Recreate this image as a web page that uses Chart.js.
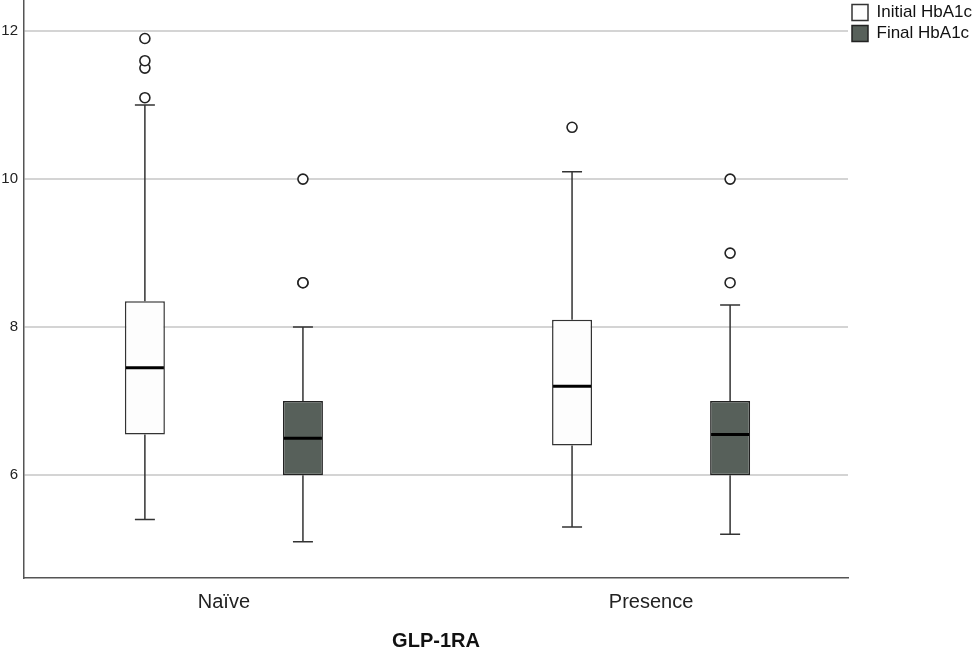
<!DOCTYPE html>
<html>
<head>
<meta charset="utf-8">
<script src="https://cdn.jsdelivr.net/npm/chart.js@4.4.1/dist/chart.umd.min.js"></script>
<style>
  html, body { margin: 0; padding: 0; background: #fff; }
  #wrap { width: 973px; height: 653px; }
</style>
</head>
<body>
<div id="wrap"><canvas id="myChart"></canvas></div>
<script>
// GLP-1RA groups
var categories = ["Naïve", "Presence"];
var yTicks = [6, 8, 10, 12];

// Initial HbA1c box stats
var initialMin = [5.4, 5.3];
var initialQ1 = [6.55, 6.4];
var initialMedian = [7.45, 7.2];
var initialQ3 = [8.35, 8.1];
var initialMax = [11.0, 10.1];
var initialOutliers = [[11.1, 11.5, 11.6, 11.9], [10.7]];

// Final HbA1c box stats
var finalMin = [5.1, 5.2];
var finalQ1 = [6.0, 6.0];
var finalMedian = [6.5, 6.55];
var finalQ3 = [7.0, 7.0];
var finalMax = [8.0, 8.3];
var finalOutliers = [[8.6, 8.6, 10.0], [8.6, 9.0, 10.0]];

var FONT = "'Liberation Sans', Arial, sans-serif";

// floating bar [q1, q3] at the category index
function boxes(q1, q3) {
    return q1.map((v, i) => ({ x: i, y: [v, q3[i]] }));
}

var stats = [
    { min: initialMin, med: initialMedian, max: initialMax, q1: initialQ1, q3: initialQ3, out: initialOutliers },
    { min: finalMin, med: finalMedian, max: finalMax, q1: finalQ1, q3: finalQ3, out: finalOutliers }
];

// whiskers, medians and outliers on top of the floating bars
const boxPlotExtras = {
    id: "boxPlotExtras",
    afterDatasetsDraw(chart) {
        const ctx = chart.ctx;
        const y = chart.scales.y;
        ctx.save();
        stats.forEach((s, d) => {
            const meta = chart.getDatasetMeta(d);
            meta.data.forEach((bar, i) => {
                const x = bar.x;
                const half = bar.width / 2;
                const cap = bar.width / 4;
                ctx.strokeStyle = "#333";
                ctx.lineWidth = 1.5;
                ctx.beginPath();
                ctx.moveTo(x, y.getPixelForValue(s.q3[i]));
                ctx.lineTo(x, y.getPixelForValue(s.max[i]));
                ctx.moveTo(x, y.getPixelForValue(s.q1[i]));
                ctx.lineTo(x, y.getPixelForValue(s.min[i]));
                ctx.moveTo(x - cap, y.getPixelForValue(s.max[i]));
                ctx.lineTo(x + cap, y.getPixelForValue(s.max[i]));
                ctx.moveTo(x - cap, y.getPixelForValue(s.min[i]));
                ctx.lineTo(x + cap, y.getPixelForValue(s.min[i]));
                ctx.stroke();

                ctx.strokeStyle = "#000";
                ctx.lineWidth = 3;
                ctx.beginPath();
                ctx.moveTo(x - half + 1, y.getPixelForValue(s.med[i]));
                ctx.lineTo(x + half - 1, y.getPixelForValue(s.med[i]));
                ctx.stroke();

                ctx.strokeStyle = "#222";
                ctx.lineWidth = 1.6;
                ctx.fillStyle = "#fff";
                s.out[i].forEach(v => {
                    ctx.beginPath();
                    ctx.arc(x, y.getPixelForValue(v), 5, 0, Math.PI * 2);
                    ctx.fill();
                    ctx.stroke();
                });
            });
        });
        ctx.restore();
    }
};

const CHART = document.getElementById("myChart");
let myChart = new Chart(CHART, {
    type: "bar",
    data: {
        datasets: [{
            label: "Initial HbA1c",
            data: boxes(initialQ1, initialQ3),
            backgroundColor: "#fdfdfd",
            borderColor: "#333",
            borderWidth: 1.5,
            borderSkipped: false,
            categoryPercentage: 0.74,
            barPercentage: 0.253
        }, {
            label: "Final HbA1c",
            data: boxes(finalQ1, finalQ3),
            backgroundColor: "#57605a",
            borderColor: "#222",
            borderWidth: 1.5,
            borderSkipped: false,
            categoryPercentage: 0.74,
            barPercentage: 0.253
        }]
    },
    options: {
        responsive: true,
        maintainAspectRatio: false,
        animation: false,
        layout: { padding: 0 },
        plugins: {
            tooltip: { enabled: false },
            legend: {
                position: "right",
                align: "start",
                maxWidth: 125,
                labels: {
                    boxWidth: 16,
                    boxHeight: 16,
                    padding: 4,
                    color: "#111",
                    font: { family: FONT, size: 17 }
                }
            }
        },
        scales: {
            x: {
                type: "linear",
                min: -0.468,
                max: 1.461,
                offset: false,
                afterBuildTicks: scale => { scale.ticks = categories.map((c, i) => ({ value: i })); },
                afterFit: scale => { scale.height = 75; scale.paddingLeft = 0; scale.paddingRight = 0; },
                grid: { display: false, drawTicks: false },
                border: { display: true, color: "#555", width: 1.5 },
                ticks: {
                    padding: 12,
                    color: "#222",
                    autoSkip: false,
                    maxRotation: 0,
                    font: { family: FONT, size: 20 },
                    callback: value => categories[value]
                },
                title: {
                    display: true,
                    text: "GLP-1RA",
                    color: "#111",
                    padding: { top: 17, bottom: 0 },
                    font: { family: FONT, size: 20, weight: "bold" }
                }
            },
            y: {
                min: 4.61,
                max: 12.42,
                afterBuildTicks: scale => { scale.ticks = yTicks.map(v => ({ value: v })); },
                afterFit: scale => { scale.width = 24; scale.paddingTop = 0; scale.paddingBottom = 0; },
                grid: { color: "#d4d4d4", lineWidth: 2, drawTicks: false },
                border: { display: true, color: "#555", width: 1.5 },
                ticks: { padding: 6, color: "#222", font: { family: FONT, size: 15 } }
            }
        }
    },
    plugins: [boxPlotExtras]
});
</script>
</body>
</html>
